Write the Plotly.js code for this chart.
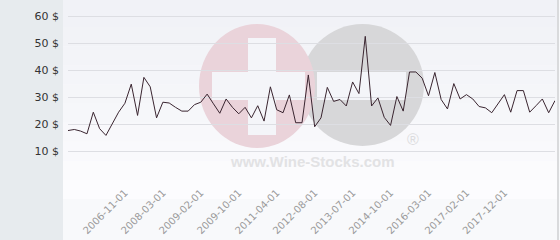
<!DOCTYPE html>
<html>
<head>
<meta charset="utf-8">
<script src="https://cdn.plot.ly/plotly-3.0.1.min.js"></script>
<style>html,body{margin:0;padding:0;background:#e7ebee;}#chart{width:560px;height:240px;}</style>
</head>
<body>
<div id="chart"></div>
<script>
const dates = [
"2005-01-01","2005-03-01","2005-06-01","2005-09-01","2005-12-01","2006-02-01","2006-04-01","2006-06-01","2006-09-01","2006-11-01",
"2007-01-01","2007-04-01","2007-06-01","2007-09-01","2007-12-01","2008-03-01","2008-05-01","2008-07-01","2008-09-01","2008-11-01",
"2008-12-01","2009-02-01","2009-03-01","2009-05-01","2009-06-01","2009-07-01","2009-09-01","2009-10-01","2009-12-01","2010-03-01",
"2010-06-01","2010-09-01","2011-01-01","2011-04-01","2011-06-01","2011-09-01","2011-12-01","2012-03-01","2012-06-01","2012-08-01",
"2012-10-01","2012-12-01","2013-02-01","2013-04-01","2013-05-01","2013-07-01","2013-09-01","2013-11-01","2014-01-01","2014-04-01",
"2014-07-01","2014-10-01","2015-01-01","2015-04-01","2015-07-01","2015-10-01","2016-01-01","2016-03-01","2016-05-01","2016-07-01",
"2016-09-01","2016-11-01","2016-12-01","2017-02-01","2017-04-01","2017-05-01","2017-07-01","2017-09-01","2017-10-01","2017-12-01",
"2018-02-01","2018-04-01","2018-06-01","2018-08-01","2018-10-01","2018-12-01","2019-02-01","2019-04-01"
];
const prices = [
17.7,18.1,17.5,16.5,24.5,18.4,15.9,20.2,24.5,27.8,
34.9,23.3,37.4,33.9,22.4,28.2,27.9,26.3,24.9,24.9,
27.3,28.2,31.2,27.6,24.1,29.4,26.3,23.9,26.3,22.4,
26.9,21.2,33.9,25.4,24.3,30.9,20.6,20.6,38.3,19.1,
22.4,33.7,28.5,29.2,26.8,35.7,31.4,52.6,26.8,29.8,
22.6,19.6,30.3,24.9,39.4,39.4,37.1,30.6,39.2,29.2,
25.7,35.1,29.4,31.0,29.4,26.6,26.1,24.3,27.6,31.0,
24.5,32.5,32.5,24.5,26.9,29.4,24.3,28.8
];
const xTickLabels = ["2006-11-01","2008-03-01","2009-02-01","2009-10-01","2011-04-01","2012-08-01","2013-07-01","2014-10-01","2016-03-01","2017-02-01","2017-12-01"];
const yTickVals = [0,10,20,30,40,50,60];
const yTickText = ["","10 $","20 $","30 $","40 $","50 $","60 $"];

// pixel helpers for decorative shapes (plot area: x 68..555, y 8..179)
const L=68, R=555, T=8, B=179;
const px = p => (p-L)/(R-L);
const py = q => (B-q)/(B-T);

const shapes = [];
shapes.push({type:'rect',xref:'paper',yref:'paper',x0:px(63),x1:px(560),y0:py(240),y1:py(0),fillcolor:'#f8f9fb',line:{width:0},layer:'below'});
const bandColors = ['#f1f2f7','#f2f3f7','#f3f4f8','#f4f5f9','#f5f6f9','#f6f7fa','#f8f8fb','#f9f9fc','#fbfbfd','#fcfcfe'];
const nb = bandColors.length;
for (let i=0;i<nb;i++){
  shapes.push({type:'rect',xref:'paper',yref:'paper',x0:px(63),x1:px(557),
    y0:py(T+(B+20-T)*(i+1)/nb),y1:py(T+(B+20-T)*i/nb)+(i===0?0.06:0),fillcolor:bandColors[i],line:{width:0},layer:'below'});
}
// watermark
shapes.push({type:'circle',xref:'paper',yref:'paper',x0:px(301),x1:px(424),y0:py(146),y1:py(24),fillcolor:'#d7d7d9',line:{width:0},layer:'below'});
shapes.push({type:'circle',xref:'paper',yref:'paper',x0:px(199),x1:px(315),y0:py(148),y1:py(24),fillcolor:'#ead3da',line:{width:0},layer:'below'});
shapes.push({type:'rect',xref:'paper',yref:'paper',x0:px(248),x1:px(276),y0:py(135),y1:py(38),fillcolor:'#f4f5f9',line:{width:0},layer:'below'});
shapes.push({type:'rect',xref:'paper',yref:'paper',x0:px(212),x1:px(305),y0:py(100),y1:py(72),fillcolor:'#f4f5f9',line:{width:0},layer:'below'});
shapes.push({type:'rect',xref:'paper',yref:'paper',x0:px(317),x1:px(406),y0:py(100),y1:py(72),fillcolor:'#f4f5f9',line:{width:0},layer:'below'});
shapes.push({type:'line',xref:'paper',yref:'paper',x0:px(558),x1:px(558),y0:py(240),y1:py(0),line:{color:'#cfcfd2',width:1.5}});

const data = [{
  x: dates, y: prices, type:'scatter', mode:'lines',
  line:{color:'#3a2530',width:1}, hoverinfo:'skip'
}];

const layout = {
  width:560, height:240,
  margin:{l:L, r:560-R, t:T, b:240-B},
  paper_bgcolor:'#e7ebee', plot_bgcolor:'rgba(0,0,0,0)',
  showlegend:false,
  shapes: shapes,
  annotations:[
    {xref:'paper',yref:'paper',x:px(312),y:py(161),text:'www.Wine-Stocks.com',showarrow:false,
     font:{family:'Liberation Sans',size:15,color:'#e2e2e4',weight:'bold'},xanchor:'center',yanchor:'middle'},
    {xref:'paper',yref:'paper',x:px(413),y:py(139),text:'®',showarrow:false,
     font:{family:'Liberation Sans',size:16,color:'#dcdcde'},xanchor:'center',yanchor:'middle'}
  ],
  xaxis:{
    type:'category', categoryorder:'array', categoryarray:dates,
    range:[0, dates.length-1],
    tickmode:'array', tickvals:xTickLabels, ticktext:xTickLabels,
    tickangle:-45, showgrid:false, zeroline:false, showline:false, ticks:'',
    tickfont:{family:'DejaVu Sans',size:10,color:'#9a9a9a'},
    ticklabelstandoff:5
  },
  yaxis:{
    range:[-0.25,63.1], tickmode:'array', tickvals:yTickVals, ticktext:yTickText,
    showgrid:true, gridcolor:'#dddee3', gridwidth:1, zeroline:false, showline:false, ticks:'',
    tickfont:{family:'DejaVu Sans',size:11,color:'#333333'},
    ticklabelstandoff:8
  }
};

Plotly.newPlot('chart', data, layout, {staticPlot:true, displayModeBar:false});
</script>
</body>
</html>
